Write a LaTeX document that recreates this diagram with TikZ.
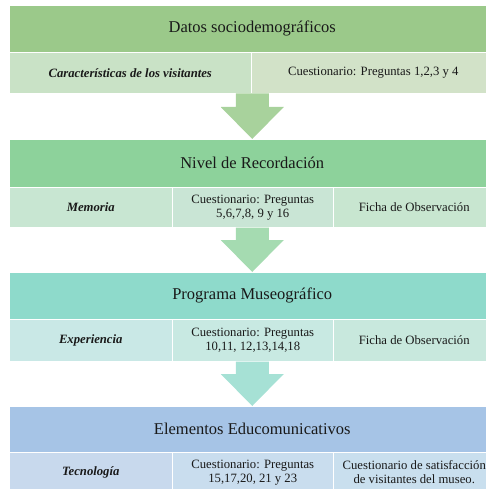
\documentclass[tikz,border=0pt]{standalone}
\usepackage{fontspec}
\setmainfont{Liberation Serif}
\usetikzlibrary{calc}
\definecolor{tA}{HTML}{9BC98A}
\definecolor{sAa}{HTML}{C9E2C6}
\definecolor{sAb}{HTML}{D2E2C8}
\definecolor{aA}{HTML}{A8D29C}
\definecolor{tB}{HTML}{8DD29B}
\definecolor{sBa}{HTML}{C8E6D2}
\definecolor{sBb}{HTML}{C9E5D5}
\definecolor{sBc}{HTML}{C8E6D0}
\definecolor{aB}{HTML}{A5DBB1}
\definecolor{tC}{HTML}{8EDACB}
\definecolor{sCa}{HTML}{C9E8E6}
\definecolor{sCb}{HTML}{C8E9E2}
\definecolor{sCc}{HTML}{C8E8DD}
\definecolor{aC}{HTML}{A6E1D5}
\definecolor{tD}{HTML}{A6C4E6}
\definecolor{sDa}{HTML}{C8D9ED}
\definecolor{sDb}{HTML}{C9DDEE}
\definecolor{sDc}{HTML}{C9DFEE}
\tikzset{
  band/.style={draw=white, line width=0.5pt, anchor=north west, inner sep=0pt,
    minimum width=486pt, font=\fontsize{16.5}{19}\selectfont, text=black!90},
  cell/.style={draw=white, line width=0.5pt, anchor=north west, inner sep=0pt,
    align=center, font=\fontsize{12.7}{14}\selectfont, text=black!90},
  lab/.style={font=\fontsize{12.7}{14}\selectfont\bfseries\itshape}
}
\newcommand\blockarrow[3]{%
  \coordinate (#1top) at (#2.south -| #3.north);
  \fill[#1] ($(#1top)+(-16.5,0)$) -- ($(#1top)+(16.5,0)$)
    -- ($(#3.north)+(16.5,-32)$) -- ($(#3.north)+(31.5,-32)$)
    -- (#3.north) -- ($(#3.north)+(-31.5,-32)$)
    -- ($(#3.north)+(-16.5,-32)$) -- cycle;}
\begin{document}
\begin{tikzpicture}[x=1pt,y=-1pt]
\useasboundingbox (0,0) rectangle (485,489);
% Band 1
\node[band, fill=tA, minimum height=47pt] (t1) at (9,5) {Datos sociodemográficos};
\node[cell, fill=sAa, minimum width=242pt, minimum height=41pt, lab] (s1a) at (9,52) {Características de los visitantes};
\node[cell, fill=sAb, minimum width=244pt, minimum height=41pt] (s1b) at (251,52) {Cuestionario: Preguntas 1,2,3 y 4};
% Band 2
\node[band, fill=tB, minimum height=48pt] (t2) at (9,139) {Nivel de Recordación};
\node[cell, fill=sBa, minimum width=163pt, minimum height=40pt, lab] (s2a) at (9,187) {Memoria};
\node[cell, fill=sBb, minimum width=161pt, minimum height=40pt] (s2b) at (172,187) {Cuestionario: Preguntas\\5,6,7,8, 9 y 16};
\node[cell, fill=sBc, minimum width=162pt, minimum height=40pt] (s2c) at (333,187) {Ficha de Observación};
% Band 3
\node[band, fill=tC, minimum height=47pt] (t3) at (9,272) {Programa  Museográfico};
\node[cell, fill=sCa, minimum width=163pt, minimum height=42pt, lab] (s3a) at (9,319) {Experiencia};
\node[cell, fill=sCb, minimum width=161pt, minimum height=42pt] (s3b) at (172,319) {Cuestionario: Preguntas\\10,11, 12,13,14,18};
\node[cell, fill=sCc, minimum width=162pt, minimum height=42pt] (s3c) at (333,319) {Ficha de Observación};
% Band 4
\node[band, fill=tD, minimum height=46pt] (t4) at (9,406) {Elementos  Educomunicativos};
\node[cell, fill=sDa, minimum width=163pt, minimum height=40pt, lab] (s4a) at (9,452) {Tecnología};
\node[cell, fill=sDb, minimum width=161pt, minimum height=40pt] (s4b) at (172,452) {Cuestionario: Preguntas\\15,17,20, 21 y 23};
\node[cell, fill=sDc, minimum width=162pt, minimum height=40pt] (s4c) at (333,452) {Cuestionario de satisfacción\\de visitantes del museo.};
% Arrows
\blockarrow{aA}{s1a}{t2}
\blockarrow{aB}{s2a}{t3}
\blockarrow{aC}{s3a}{t4}
\end{tikzpicture}
\end{document}
